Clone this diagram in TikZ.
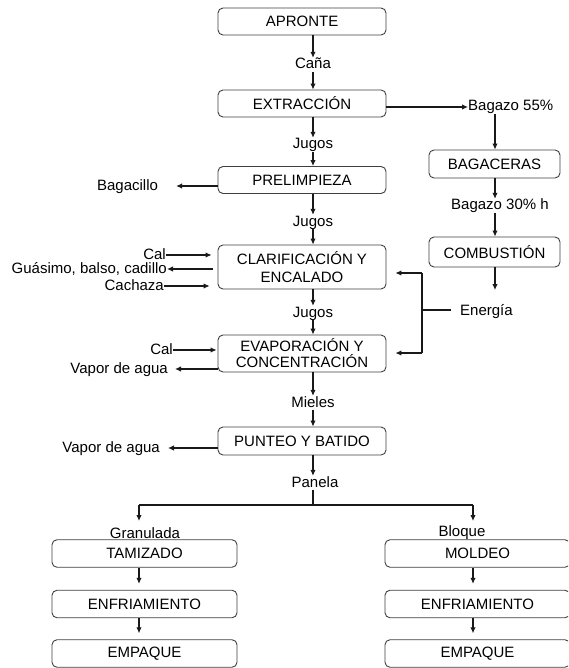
\documentclass[tikz,border=0pt]{standalone}
\usepackage{fontspec}
\setmainfont{Liberation Sans}
\usetikzlibrary{arrows.meta}
\begin{document}
\begin{tikzpicture}[x=1pt,y=-1pt,
  every node/.style={font=\fontsize{15}{18}\selectfont, text=black},
  box/.style={draw=black!75, line width=0.9pt, rounded corners=5pt, inner sep=0pt, align=center},
  mainbox/.style={box, minimum width=168pt},
  sidebox/.style={box, minimum width=131pt},
  colbox/.style={box, minimum width=185pt, minimum height=27.5pt},
  lbl/.style={inner sep=0pt, text height=11pt, text depth=3pt},
  conn/.style={draw=black!90, line width=1.1pt},
  arr/.style={conn, -{Latex[length=6pt,width=5.5pt]}}]
\useasboundingbox (0,0) rectangle (568,668);
\clip (0,0) rectangle (568,668);
\fill[white] (0,0) rectangle (568,668);

% main column
\node[mainbox, minimum height=27pt] (apronte) at (302,21.5) {APRONTE};
\node[lbl] (cana) at (313,65) {Caña};
\node[mainbox, minimum height=27pt] (extr) at (302,103.5) {EXTRACCIÓN};
\node[lbl] (jug1) at (313,145) {Jugos};
\node[mainbox, minimum height=27pt] (prel) at (302,180) {PRELIMPIEZA};
\node[lbl] (jug2) at (313,222) {Jugos};
\node[mainbox, minimum height=44pt] (clar) at (302,267) {CLARIFICACIÓN Y\\[0pt]ENCALADO};
\node[lbl] (jug3) at (313,313) {Jugos};
\node[mainbox, minimum height=37pt] (evap) at (302,353.5) {EVAPORACIÓN Y\\[-2pt]CONCENTRACIÓN};
\node[lbl] (mieles) at (313,403) {Mieles};
\node[mainbox, minimum height=28pt] (punteo) at (302,441) {PUNTEO Y BATIDO};
\node[lbl] (panela) at (315,483) {Panela};

\draw[arr] (apronte.south -| cana) -- (cana.north);
\draw[arr] (cana.south) -- (extr.north -| cana);
\draw[arr] (extr.south -| jug1) -- (jug1.north);
\draw[arr] (jug1.south) -- (prel.north -| jug1);
\draw[arr] (prel.south -| jug2) -- (jug2.north);
\draw[arr] (jug2.south) -- (clar.north -| jug2);
\draw[arr] (clar.south -| jug3) -- (jug3.north);
\draw[arr] (jug3.south) -- (evap.north -| jug3);
\draw[arr] (evap.south -| mieles) -- (mieles.north);
\draw[arr] (mieles.south) -- (punteo.north -| mieles);
\draw[arr] (punteo.south -| jug3) -- (panela.north -| jug3);

% right branch (bagazo)
\node[lbl, anchor=west] (baga55) at (468,107) {Bagazo 55\%};
\node[sidebox, minimum height=28pt] (bagac) at (494.5,164) {BAGACERAS};
\node[lbl] (baga30) at (500,206) {Bagazo 30\% h};
\node[sidebox, minimum height=30pt] (comb) at (494.5,252) {COMBUSTIÓN};
\coordinate (combend) at (495,290);
\node[lbl, anchor=west] (energia) at (460,311) {Energía};

\draw[arr] (extr.east |- baga55.west) -- (baga55.west);
\draw[arr] (baga55.south -| combend) -- (bagac.north -| combend);
\draw[arr] (bagac.south -| combend) -- (baga30.north -| combend);
\draw[arr] (baga30.south -| combend) -- (comb.north -| combend);
\draw[arr] (comb.south -| combend) -- (combend);

\coordinate (ejoin) at (422,310);
\coordinate (etop) at (422,273);
\coordinate (ebot) at (422,353);
\draw[conn, shorten <=9pt] (energia.west |- ejoin) -- (ejoin);
\draw[conn] (etop) -- (ebot);
\draw[arr, shorten >=9pt] (etop) -- (etop -| clar.east);
\draw[arr, shorten >=9pt] (ebot) -- (ebot -| evap.east);

% left side inputs/outputs
\node[lbl] (bagacillo) at (127.5,186) {Bagacillo};
\draw[arr, shorten >=18pt] (prel.west |- bagacillo.east) -- (bagacillo.east);

\node[lbl, anchor=east] (cal1) at (166,255) {Cal};
\node[lbl, anchor=east] (guas) at (167,269) {Guásimo, balso, cadillo};
\node[lbl, anchor=east] (cach) at (164,286) {Cachaza};
\draw[arr, shorten >=6pt] (cal1.east) -- (cal1.east -| clar.west);
\draw[arr, shorten <=5pt] (guas.east -| clar.west) -- (guas.east);
\draw[arr, shorten >=8pt] (cach.east) -- (cach.east -| clar.west);

\node[lbl, anchor=east] (cal2) at (173,350) {Cal};
\node[lbl, anchor=east] (vap1) at (168,369) {Vapor de agua};
\draw[arr, shorten >=1pt] (cal2.east) -- (cal2.east -| evap.west);
\draw[arr, shorten >=7pt] (vap1.east -| evap.west) -- (vap1.east);

\node[lbl, anchor=east] (vap2) at (160,448) {Vapor de agua};
\draw[arr, shorten >=8pt] (vap2.east -| punteo.west) -- (vap2.east);

% bottom branches
\coordinate (br) at (313,505);
\coordinate (bl) at (139,505);
\coordinate (brr) at (473,505);
\coordinate (gl) at (139,521);
\coordinate (gr) at (473,521);
\draw[conn] (panela.south -| br) -- (br);
\draw[conn] (bl) -- (brr);

\node[lbl] (gran) at (145,534) {Granulada};
\node[lbl] (bloq) at (462,532) {Bloque};
\draw[arr] (bl) -- (gl);
\draw[arr] (brr) -- (gr);

\node[colbox] (tam) at (144.5,553.5) {TAMIZADO};
\node[colbox] (enfl) at (144.5,604) {ENFRIAMIENTO};
\node[colbox] (empl) at (144.5,653.5) {EMPAQUE};
\draw[arr, shorten >=6pt] (tam.south -| bl) -- (enfl.north -| bl);
\draw[arr, shorten >=6pt] (enfl.south -| bl) -- (empl.north -| bl);

\node[colbox] (mol) at (477.5,553.5) {MOLDEO};
\node[colbox] (enfr) at (477.5,604) {ENFRIAMIENTO};
\node[colbox] (empr) at (477.5,653.5) {EMPAQUE};
\draw[arr, shorten >=6pt] (mol.south -| brr) -- (enfr.north -| brr);
\draw[arr, shorten >=6pt] (enfr.south -| brr) -- (empr.north -| brr);
\end{tikzpicture}
\end{document}
